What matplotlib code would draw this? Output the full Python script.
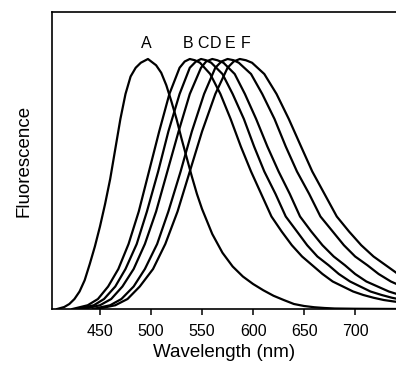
import matplotlib
matplotlib.use("Agg")
import matplotlib.pyplot as plt

plt.rcParams['font.family'] = ['Liberation Sans', 'DejaVu Sans']

# ---- data ----
A_nm = [408, 415, 420, 425, 430, 435, 440, 445, 450, 455, 460, 465, 470, 475, 480, 485, 490,
        497, 505, 510, 515, 520, 525, 530, 535, 540, 545, 550, 560, 570, 580, 590, 600, 610,
        620, 630, 640, 650, 660, 670, 680, 700, 745]
A_val = [0.0, 0.008, 0.02, 0.04, 0.07, 0.115, 0.18, 0.25, 0.33, 0.42, 0.52, 0.64, 0.76, 0.86,
         0.93, 0.965, 0.985, 1.0, 0.975, 0.945, 0.895, 0.83, 0.76, 0.68, 0.605, 0.53, 0.46,
         0.40, 0.30, 0.225, 0.17, 0.13, 0.10, 0.075, 0.053, 0.036, 0.02, 0.012, 0.007, 0.004,
         0.002, 0.001, 0.0]

# values at each read point of curves B-F
BF_val = [0.0, 0.015, 0.04, 0.09, 0.16, 0.26, 0.39, 0.55, 0.71, 0.86, 0.965, 0.99, 1.0,
          0.995, 0.985, 0.94, 0.86, 0.76, 0.65, 0.55, 0.46, 0.37, 0.31, 0.255, 0.21, 0.175,
          0.14, 0.11, 0.09, 0.07, 0.056, 0.045, 0.036, 0.03, 0.025]

B_nm = [423, 438, 448, 458, 468, 478, 488, 498, 508, 518, 528, 533, 538,
        543, 548, 558, 568, 578, 588, 598, 608, 618, 628, 638, 648, 658,
        668, 678, 688, 698, 708, 718, 728, 738, 748]
C_nm = [428, 444, 454, 465, 475, 486, 496, 507, 517, 528, 538, 544, 549,
        554, 559, 570, 580, 591, 601, 611, 622, 632, 643, 653, 663, 674,
        684, 695, 705, 715, 726, 736, 747, 757, 768]
D_nm = [434, 450, 461, 472, 483, 494, 505, 516, 527, 538, 549, 554, 560,
        565, 571, 582, 592, 603, 614, 625, 636, 646, 657, 668, 679, 690,
        700, 711, 722, 733, 744, 754, 765, 776, 787]
E_nm = [443, 460, 471, 483, 494, 506, 517, 529, 540, 552, 563, 569, 575,
        581, 586, 598, 609, 621, 632, 643, 655, 666, 678, 689, 700, 712,
        723, 735, 746, 757, 769, 780, 792, 803, 814]
F_nm = [447, 465, 477, 489, 502, 514, 526, 538, 550, 563, 575, 581, 587,
        593, 599, 611, 623, 635, 647, 658, 670, 682, 694, 706, 718, 730,
        742, 754, 766, 777, 789, 801, 813, 825, 837]

labels = ['A', 'B', 'C', 'D', 'E', 'F']
label_nm = [495.8, 536.0, 550.5, 563.5, 577.6, 593.0]
label_y = 1.063

xticks = [450, 500, 550, 600, 650, 700]

# ---- figure ----
fig = plt.figure(figsize=(3.96, 3.65), dpi=100)
ax = fig.add_axes([52/396, 1 - 309/365, 345/396, 297/365])

ax.plot(A_nm, A_val, color='black', lw=1.6, solid_joinstyle='round')
for nm in (B_nm, C_nm, D_nm, E_nm, F_nm):
    ax.plot(nm, BF_val, color='black', lw=1.6, solid_joinstyle='round')

for lab, x in zip(labels, label_nm):
    ax.text(x, label_y, lab, ha='center', va='center', fontsize=11.5)

ax.set_xlim(403, 741)
ax.set_ylim(0, 1.188)
ax.set_xticks(xticks)
ax.set_xticklabels([str(t) for t in xticks], fontsize=11.5)
ax.set_yticks([])
ax.tick_params(axis='x', direction='out', length=4.5, width=1.1, pad=6)
for s in ax.spines.values():
    s.set_linewidth(1.2)
ax.set_xlabel('Wavelength (nm)', fontsize=13.5, labelpad=4)
ax.set_ylabel('Fluorescence', fontsize=13.5, labelpad=14)

fig.savefig('out.png', dpi=100)
